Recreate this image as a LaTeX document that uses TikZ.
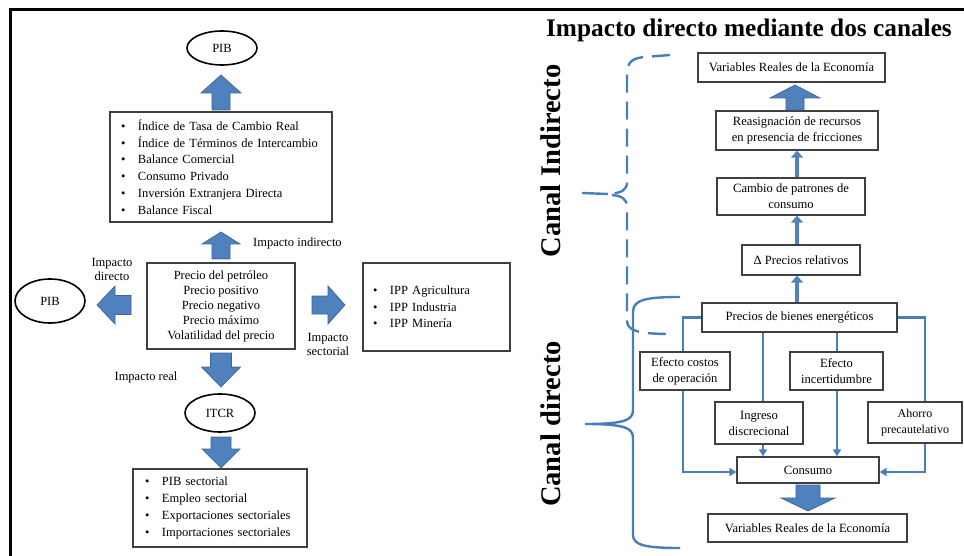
\documentclass[tikz,border=0pt]{standalone}
\usepackage{fontspec}
\setmainfont{Liberation Serif}
\usetikzlibrary{shapes.geometric,arrows.meta,calc}
\definecolor{ablue}{HTML}{4F81BD}
\definecolor{adark}{HTML}{3C6696}
\definecolor{lblue}{HTML}{4A7EBB}
\definecolor{bgray}{HTML}{404040}
\newcommand\blockarrow[7]{%
  \filldraw[barrow,shift={(#1,#2)},rotate=#3] (0,-#7) -- (#4-#5,-#7) -- (#4-#5,-#6) -- (#4,0) -- (#4-#5,#6) -- (#4-#5,#7) -- (0,#7) -- cycle;}
\newcommand\bitem[1]{\makebox[17pt][l]{\textbullet}#1}
\tikzset{
  box/.style={draw=bgray, line width=1.3pt, fill=white, inner sep=2pt, align=center, font=\fontsize{12.6}{16}\selectfont},
  ell/.style={ellipse, draw=black, line width=1.6pt, inner sep=0pt, font=\fontsize{12.5}{14}\selectfont},
  barrow/.style={fill=ablue, draw=adark, line width=0.7pt},
  conn/.style={draw=lblue, line width=2.2pt, -{Triangle[length=7pt,width=8pt]}},
  link/.style={draw=lblue, line width=2.2pt},
  upconn/.style={draw=ablue, line width=4pt, -{Triangle[length=7pt,width=12pt]}},
  lbl/.style={font=\fontsize{12.5}{14}\selectfont, align=center, inner sep=0pt},
  bracelin/.style={draw=lblue, line width=2.4pt},
}
\begin{document}
\begin{tikzpicture}[x=1pt,y=-1pt]
\useasboundingbox (0,0) rectangle (964,556);
% frame
\draw[line width=3pt] (10,556) -- (10,10) -- (964,10);

% ---------------- left panel ----------------
\node[ell, minimum width=70pt, minimum height=34pt] (pibTop) at (222,48) {PIB};
\node[box, minimum width=222pt, minimum height=110pt, text width=200pt, align=left,
      font=\fontsize{12.5}{16.7}\selectfont] (ind) at (221,167)
  {\bitem{Índice de Tasa de Cambio Real}\\
   \bitem{Índice de Términos de Intercambio}\\
   \bitem{Balance Comercial}\\
   \bitem{Consumo Privado}\\
   \bitem{Inversión Extranjera Directa}\\
   \bitem{Balance Fiscal}};
\node[box, minimum width=148pt, minimum height=86pt, font=\fontsize{12.5}{15}\selectfont] (precio) at (221,306)
  {Precio del petróleo\\Precio positivo\\Precio negativo\\Precio máximo\\Volatilidad del precio};
\node[ell, minimum width=70pt, minimum height=44pt] (pibLeft) at (50,301) {PIB};
\node[box, minimum width=147pt, minimum height=88pt, text width=127pt, align=left,
      font=\fontsize{12.5}{16.5}\selectfont] (ipp) at (436.5,307)
  {\bitem{IPP Agricultura}\\
   \bitem{IPP Industria}\\
   \bitem{IPP Minería}};
\node[ell, minimum width=70pt, minimum height=38pt] (itcr) at (220,413) {ITCR};
\node[box, minimum width=174pt, minimum height=78pt, text width=150pt, align=left,
      font=\fontsize{12.5}{16.7}\selectfont] (sect) at (220,508)
  {\bitem{PIB sectorial}\\
   \bitem{Empleo sectorial}\\
   \bitem{Exportaciones sectoriales}\\
   \bitem{Importaciones sectoriales}};

\node[lbl, anchor=west] (lInd) at (253,243) {Impacto indirecto};
\node[lbl] (lDir) at (112,269) {Impacto\\directo};
\node[lbl] (lSec) at (328,344) {Impacto\\sectorial};
\node[lbl] (lReal) at (146,377) {Impacto real};

% block arrows (left)
\blockarrow{221}{110}{90}{35}{18}{20}{9}
\blockarrow{221}{259}{90}{27}{12}{19}{9}
\blockarrow{131}{305}{180}{34}{18}{19}{9.5}
\blockarrow{312}{305}{0}{33}{17}{19}{9}
\blockarrow{221}{353}{-90}{34}{20}{19.5}{10.5}
\blockarrow{221}{437}{-90}{31}{19}{19}{10}

% ---------------- right panel ----------------
\node[font=\fontsize{25.3}{29}\selectfont\bfseries, inner sep=0pt] (title) at (749,30) {Impacto directo mediante dos canales};
\node[font=\fontsize{28.5}{31}\selectfont\bfseries, rotate=90, inner sep=0pt] (cInd) at (551,161) {Canal\hspace{8pt}Indirecto};
\node[font=\fontsize{28.5}{31}\selectfont\bfseries, rotate=90, inner sep=0pt] (cDir) at (551,424) {Canal\hspace{8pt}directo};

% braces
\draw[bracelin, dash pattern=on 18pt off 9pt] (670,55) -- (645,57) .. controls (632,58) and (627,62) .. (627,75) -- (627,182)
   .. controls (627,190) and (622,193) .. (608,194);
\draw[bracelin] (608,194) -- (582,193);
\draw[bracelin, dash pattern=on 18pt off 9pt] (612,195) .. controls (622,196) and (627,199) .. (627,207) -- (627,320)
   .. controls (627,330) and (635,334) .. (672,334);
\draw[bracelin] (680,297) .. controls (645,297) and (633,300) .. (633,312) -- (633,410)
   .. controls (633,420) and (625,424) .. (585,424)
   .. controls (625,424) and (633,428) .. (633,438) -- (633,535)
   .. controls (633,545) and (645,548) .. (680,548);

\node[box, minimum width=187pt, minimum height=29pt] (vrTop) at (791.5,67.5) {Variables Reales de la Economía};
\node[box, minimum width=162pt, minimum height=39pt] (reas) at (797,130.5) {Reasignación de recursos\\en presencia de fricciones};
\node[box, minimum width=148pt, minimum height=37pt] (cambio) at (791,196.5) {Cambio de patrones de\\consumo};
\node[box, minimum width=118pt, minimum height=30pt] (delta) at (801,260) {Δ Precios relativos};
\node[box, minimum width=195pt, minimum height=29pt] (precios) at (799.5,317.5) {Precios de bienes energéticos};
\node[box, minimum width=90pt, minimum height=38pt] (costos) at (685,371) {Efecto costos\\de operación};
\node[box, minimum width=93pt, minimum height=38pt] (incert) at (836.5,371) {Efecto\\incertidumbre};
\node[box, minimum width=88pt, minimum height=42pt] (ingreso) at (759,423) {Ingreso\\discrecional};
\node[box, minimum width=94pt, minimum height=41pt, font=\fontsize{12}{16}\selectfont] (ahorro) at (915,422.5) {Ahorro\\precautelativo};
\node[box, minimum width=142pt, minimum height=26pt] (consumo) at (808,470) {Consumo};
\node[box, minimum width=199pt, minimum height=28pt] (vrBot) at (807.5,528) {Variables Reales de la Economía};

\coordinate (xC) at (797,0);
\coordinate (xL) at (683,0);
\coordinate (xI) at (763,0);
\coordinate (xU) at (837,0);
\coordinate (xR) at (925,0);
\coordinate (yC) at (0,472);

\blockarrow{795}{110}{90}{25}{13}{25}{9}
\draw[upconn] (cambio.north -| xC) -- (reas.south -| xC);
\draw[upconn] (delta.north -| xC) -- (cambio.south -| xC);
\draw[upconn] (precios.north -| xC) -- (delta.south -| xC);

\draw[link] (precios.west) -| (costos.north -| xL);
\draw[conn] (costos.south -| xL) |- (consumo.west |- yC);
\draw[link] (precios.south -| xI) -- (ingreso.north -| xI);
\draw[conn] (ingreso.south -| xI) -- (consumo.north -| xI);
\draw[link] (precios.south -| xU) -- (incert.north -| xU);
\draw[conn] (incert.south -| xU) -- (consumo.north -| xU);
\draw[link] (precios.east) -| (ahorro.north -| xR);
\draw[conn] (ahorro.south -| xR) |- (consumo.east |- yC);

\blockarrow{808}{485}{-90}{26}{13}{27}{12}
\end{tikzpicture}
\end{document}
